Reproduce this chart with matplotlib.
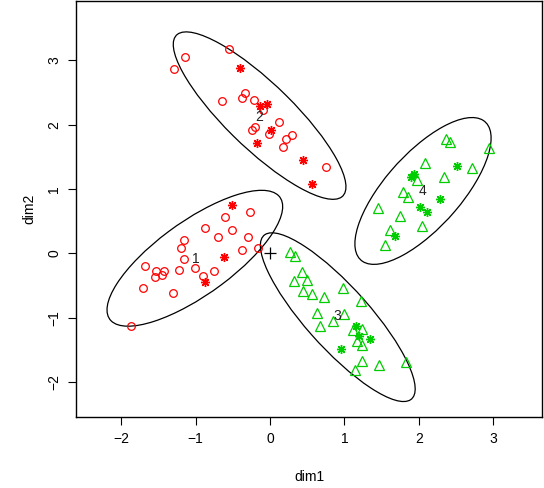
import numpy as np
import matplotlib
matplotlib.use("Agg")
import matplotlib.pyplot as plt
from matplotlib.patches import Ellipse

plt.rcParams["font.family"] = ["Liberation Sans", "DejaVu Sans"]

RED = "#FF0000"
GREEN = "#00CD00"

# cluster 1 (red circles, lower left)
c1_x = [-0.27, -0.60, -0.87, -0.51, -0.70, -0.29, -1.15, -1.19, -0.38, -0.16, -1.15,
        -1.68, -1.22, -1.01, -1.53, -1.42, -1.45, -1.55, -0.75, -0.90, -1.71, -1.31, -1.87]
c1_y = [0.65, 0.57, 0.40, 0.37, 0.25, 0.26, 0.21, 0.09, 0.06, 0.09, -0.09,
        -0.20, -0.25, -0.22, -0.28, -0.28, -0.33, -0.37, -0.27, -0.35, -0.53, -0.61, -1.13]
c1_sx = [-0.51, -0.62, -0.88]
c1_sy = [0.75, -0.06, -0.44]

# cluster 2 (red circles, upper left)
c2_x = [-0.55, -1.14, -1.29, -0.34, -0.37, -0.65, -0.21, -0.10, 0.12, -0.20, -0.24,
        -0.02, 0.30, 0.22, 0.18, 0.75]
c2_y = [3.18, 3.05, 2.86, 2.49, 2.41, 2.36, 2.38, 2.23, 2.04, 1.97, 1.92,
        1.85, 1.84, 1.77, 1.66, 1.34]
c2_sx = [-0.40, -0.13, -0.04, 0.01, -0.18, 0.44, 0.57]
c2_sy = [2.88, 2.29, 2.32, 1.91, 1.71, 1.45, 1.08]

# cluster 3 (green triangles, lower middle)
c3_x = [0.27, 0.33, 0.43, 0.32, 0.49, 0.44, 0.56, 0.72, 0.98, 1.22, 0.63, 0.67,
        0.85, 1.00, 1.12, 1.24, 1.17, 1.23, 1.24, 1.47, 1.82, 1.14]
c3_y = [0.02, -0.04, -0.29, -0.43, -0.41, -0.59, -0.63, -0.67, -0.53, -0.74, -0.93, -1.12,
        -1.05, -0.94, -1.19, -1.17, -1.36, -1.42, -1.67, -1.73, -1.69, -1.81]
c3_sx = [1.15, 1.19, 1.34, 0.95]
c3_sy = [-1.12, -1.28, -1.33, -1.48]

# cluster 4 (green triangles, right)
c4_x = [2.36, 2.42, 2.94, 2.08, 2.71, 2.34, 1.97, 1.78, 1.85, 1.45, 1.75, 1.61, 2.04, 1.54]
c4_y = [1.77, 1.73, 1.63, 1.41, 1.33, 1.18, 1.14, 0.96, 0.87, 0.70, 0.58, 0.37, 0.42, 0.13]
c4_sx = [1.93, 1.90, 2.51, 2.28, 2.01, 2.11, 1.68]
c4_sy = [1.23, 1.19, 1.35, 0.84, 0.72, 0.65, 0.27]

# cluster labels
lab_text = ["1", "2", "3", "4"]
lab_x = [-1.00, -0.14, 0.90, 2.05]
lab_y = [-0.08, 2.12, -0.97, 0.97]

# ellipses: centre, half extent in x and y, correlation
ell_cx = [-1.01, -0.14, 0.91, 2.055]
ell_cy = [-0.075, 2.14, -0.99, 0.97]
ell_rx = [1.18, 1.16, 1.04, 0.915]
ell_ry = [1.055, 1.30, 1.31, 1.14]
ell_rho = [0.76, -0.85, -0.85, 0.72]

fig = plt.figure(figsize=(5.44, 4.88), dpi=100)
ax = fig.add_axes([0.1406, 0.1455, 0.8566, 0.8525])

for cx, cy, rx, ry, rho in zip(ell_cx, ell_cy, ell_rx, ell_ry, ell_rho):
    S = np.array([[rx * rx, rho * rx * ry], [rho * rx * ry, ry * ry]])
    vals, vecs = np.linalg.eigh(S)
    ang = np.degrees(np.arctan2(vecs[1, 1], vecs[0, 1]))
    ax.add_patch(Ellipse((cx, cy), 2 * np.sqrt(vals[1]), 2 * np.sqrt(vals[0]),
                         angle=ang, fill=False, ec="black", lw=0.9))

ax.plot(c1_x, c1_y, "o", mfc="none", mec=RED, ms=5.5, mew=0.9)
ax.plot(c2_x, c2_y, "o", mfc="none", mec=RED, ms=5.5, mew=0.9)
ax.plot(c1_sx + c2_sx, c1_sy + c2_sy, marker=(8, 2, 0), ls="none", mec=RED, ms=6.5, mew=1.0)
ax.plot(c3_x + c4_x, c3_y + c4_y, "^", mfc="none", mec=GREEN, ms=6.5, mew=0.9)
ax.plot(c3_sx + c4_sx, c3_sy + c4_sy, marker=(8, 2, 0), ls="none", mec=GREEN, ms=6.5, mew=1.0)
ax.plot([0], [0], "+", color="black", ms=8, mew=0.9)

for t, x, y in zip(lab_text, lab_x, lab_y):
    ax.text(x, y, t, ha="center", va="center", fontsize=10, color="#222222")

ax.set_xlim(-2.60, 3.66)
ax.set_ylim(-2.54, 3.92)
ax.set_xticks([-2, -1, 0, 1, 2, 3])
ax.set_yticks([-2, -1, 0, 1, 2, 3])
ax.set_xticklabels(["\u22122", "\u22121", "0", "1", "2", "3"])
ax.set_yticklabels(["\u22122", "\u22121", "0", "1", "2", "3"], rotation=90, va="center")
ax.tick_params(direction="out", length=5.8, width=0.8, labelsize=10, pad=5)
for s in ax.spines.values():
    s.set_linewidth(1.0)
ax.set_xlabel("dim1", fontsize=10, labelpad=17)
ax.set_ylabel("dim2", fontsize=10, labelpad=8)

fig.savefig("out.png", dpi=100)
